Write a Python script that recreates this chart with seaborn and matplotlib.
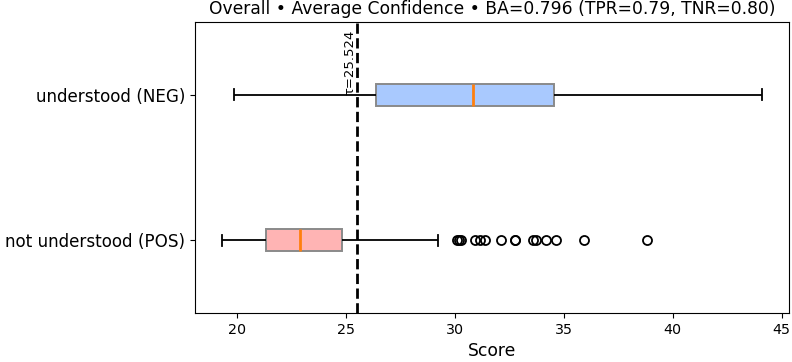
import numpy as np
import pandas as pd
import seaborn as sns
import matplotlib
matplotlib.use("Agg")
import matplotlib.pyplot as plt

# Categories, top to bottom
groups = ["understood (NEG)", "not understood (POS)"]
box_colors = ["#a9c9fe", "#ffb4b4"]

# Box summaries: low whisker, Q1, median, Q3, high whisker
neg_summary = [19.88, 26.37, 30.85, 34.54, 44.09]
pos_summary = [19.32, 21.34, 22.89, 24.82, 29.24]
pos_outliers = [30.10, 30.19, 30.28, 30.95, 31.17, 31.40, 32.14, 32.75, 32.78,
                33.58, 33.75, 34.20, 34.66, 35.95, 38.84]

tau = 25.524
title = "Overall • Average Confidence • BA=0.796 (TPR=0.79, TNR=0.80)"

# Sample lists whose quartiles / whiskers give back the summaries above
m = len(pos_outliers) + 1
pos_values = list(np.repeat(pos_summary, [1, m, m, m, 1])) + pos_outliers
neg_values = list(neg_summary)

df = pd.DataFrame({
    "Score": neg_values + pos_values,
    "group": [groups[0]] * len(neg_values) + [groups[1]] * len(pos_values),
})

fig = plt.figure(figsize=(7.92, 3.62), dpi=100)
ax = fig.add_subplot(111)
plt.subplots_adjust(left=0.246, right=0.996, top=0.939, bottom=0.135)

sns.boxplot(data=df, x="Score", y="group", hue="group", order=groups,
            hue_order=groups, palette=dict(zip(groups, box_colors)),
            saturation=1, width=0.15, legend=False, ax=ax, whis=1.5,
            capwidths=0.075,
            boxprops=dict(edgecolor="#8a8a8a", linewidth=1.4),
            whiskerprops=dict(color="black", linewidth=1.3),
            capprops=dict(color="black", linewidth=1.3),
            medianprops=dict(color="#ff7f0e", linewidth=2.0),
            flierprops=dict(marker="o", markersize=6.5, markerfacecolor="none",
                            markeredgecolor="black", markeredgewidth=1.3))

ax.axvline(tau, color="black", linestyle="--", linewidth=2.0)
ax.text(tau - 0.05, 0, f"τ={tau:.3f}", rotation=90, ha="right", va="bottom",
        fontsize=9.5)

ax.set_title(title, fontsize=12.3)
ax.set_xlabel("Score", fontsize=12.3)
ax.set_ylabel("")
ax.tick_params(axis="y", labelsize=12.1)
ax.tick_params(axis="x", labelsize=10.3)
for s in ax.spines.values():
    s.set_visible(True)
    s.set_color("black")

fig.savefig("out.png", dpi=100)
